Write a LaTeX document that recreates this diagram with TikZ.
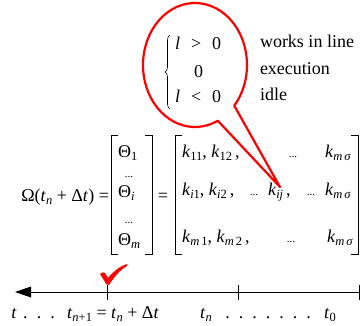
\documentclass[tikz,border=0pt]{standalone}
\usepackage{fontspec}
\setmainfont{Liberation Serif}
\usetikzlibrary{decorations.pathreplacing}
\newcommand\mi[1]{\textit{#1}}
\newcommand\lo[1]{\raisebox{-0.45ex}{\fontsize{12.5}{13}\selectfont #1}}
\newcommand\sdots{{\fontsize{11}{11}\selectfont ...}}
\begin{document}
\begin{tikzpicture}[x=1pt,y=-1pt,
  every node/.style={font=\fontsize{18}{20}\selectfont, inner sep=0pt, outer sep=0pt},
  lbl/.style={anchor=base west},
  bkt/.style={line width=0.9pt},
  callout/.style={draw=red, line width=2.2pt, line join=round},
  axis/.style={line width=0.9pt}]
\useasboundingbox (0,0) rectangle (361,325);

% callout
\coordinate (tip) at (280,187);
\draw[callout] (195,65) ++(64:52 and 62) arc (64:401:52 and 62) -- (tip) -- cycle;

% brace and cases
\coordinate (brtop) at (170,35);
\coordinate (brbot) at (170,109);
\draw[line width=0.6pt, decorate, decoration={brace, amplitude=5pt}] (brbot) -- (brtop);
\node[lbl] (c1l) at (175,49) {\mi{l}};
\node[lbl] (c1r) at (191,49) {>};
\node[lbl] (c1z) at (212,49) {0};
\node[lbl] (c2z) at (194,77) {0};
\node[lbl] (c3l) at (175,102) {\mi{l}};
\node[lbl] (c3r) at (191,102) {<};
\node[lbl] (c3z) at (212,102) {0};

\node[lbl] (w1) at (260,47) {works in line};
\node[lbl] (w2) at (260,74) {execution};
\node[lbl] (w3) at (260,100) {idle};

% left side
\node[anchor=base east] (om) at (109,201) {Ω(\mi{t}\lo{\mi{n}} + Δ\mi{t}) =};

% first vector
\draw[bkt] (118,135) -- (111,135) -- (111,254) -- (118,254);
\draw[bkt] (145,135) -- (152,135) -- (152,254) -- (145,254);
\node[lbl] (th1) at (118,157) {Θ\lo{1}};
\node[anchor=base] (d1) at (129,177) {\sdots};
\node[lbl] (thi) at (118,197) {Θ\lo{\mi{i}}};
\node[anchor=base] (d2) at (129,223) {\sdots};
\node[lbl] (thm) at (118,245) {Θ\lo{\mi{m}}};

\node[anchor=base] (eq) at (163,201) {=};

% second matrix
\draw[bkt] (182,135) -- (175,135) -- (175,254) -- (182,254);
\draw[bkt] (351,135) -- (358,135) -- (358,254) -- (351,254);

\node[lbl] (r1a) at (182,157) {\mi{k}\lo{11}, \mi{k}\lo{12}\,,};
\node[anchor=base] (r1d) at (293,157) {\sdots};
\node[lbl] (r1m) at (325,157) {\mi{k}\lo{\mi{m}\,\mi{σ}}};

\node[lbl] (r2a) at (182,195) {\mi{k}\lo{\mi{i}1}, \mi{k}\lo{\mi{i}2}\,,};
\node[anchor=base] (r2d) at (254,195) {\sdots};
\node[lbl] (r2k) at (268,195) {\mi{k}\lo{\mi{ij}}\,,};
\node[anchor=base] (r2e) at (311,195) {\sdots};
\node[lbl] (r2m) at (325,195) {\mi{k}\lo{\mi{m}\,\mi{σ}}};

\node[lbl] (r3a) at (182,242) {\mi{k}\lo{\mi{m}\,1}, \mi{k}\lo{\mi{m}\,2}\,,};
\node[anchor=base] (r3d) at (291,242) {\sdots};
\node[lbl] (r3m) at (327,242) {\mi{k}\lo{\mi{m}\,\mi{σ}}};

% timeline
\coordinate (aL) at (15,292);
\coordinate (aR) at (359,292);
\draw[axis] (aR) -- (28,292);
\fill (aL) -- (31,286.5) -- (31,297.5) -- cycle;
\foreach \x/\n in {107/tA,238/tB,359/tC}{
  \coordinate (\n) at (\x,292);
  \draw[axis] (\x,285) -- (\x,300);
}
% check mark
\fill[red] (100,274) .. controls (102,272) and (104,272) .. (105,273) -- (108,278) .. controls (114,271) and (120,266) .. (127,264) -- (127.5,265.5) .. controls (120,270) and (114,277) .. (109,285) -- (106,284) .. controls (104,280) and (102,277) .. (100,274) -- cycle;

\node[anchor=base] (lt) at (14,318) {\mi{t}};
\node[anchor=base] (ld1) at (39,318) {.\ \ .\ \ .};
\node[anchor=base] (ltn1) at (113,318) {\mi{t}\lo{\mi{n}+1} = \mi{t}\lo{\mi{n}} + Δ\mi{t}};
\node[anchor=base] (ltn) at (206,318) {\mi{t}\lo{\mi{n}}};
\node[anchor=base] (ld2) at (268,318) {.\ \ .\ \ .\ \ .\ \ .\ \ .\ \ .};
\node[anchor=base] (lt0) at (330,318) {\mi{t}\lo{0}};
\end{tikzpicture}
\end{document}
